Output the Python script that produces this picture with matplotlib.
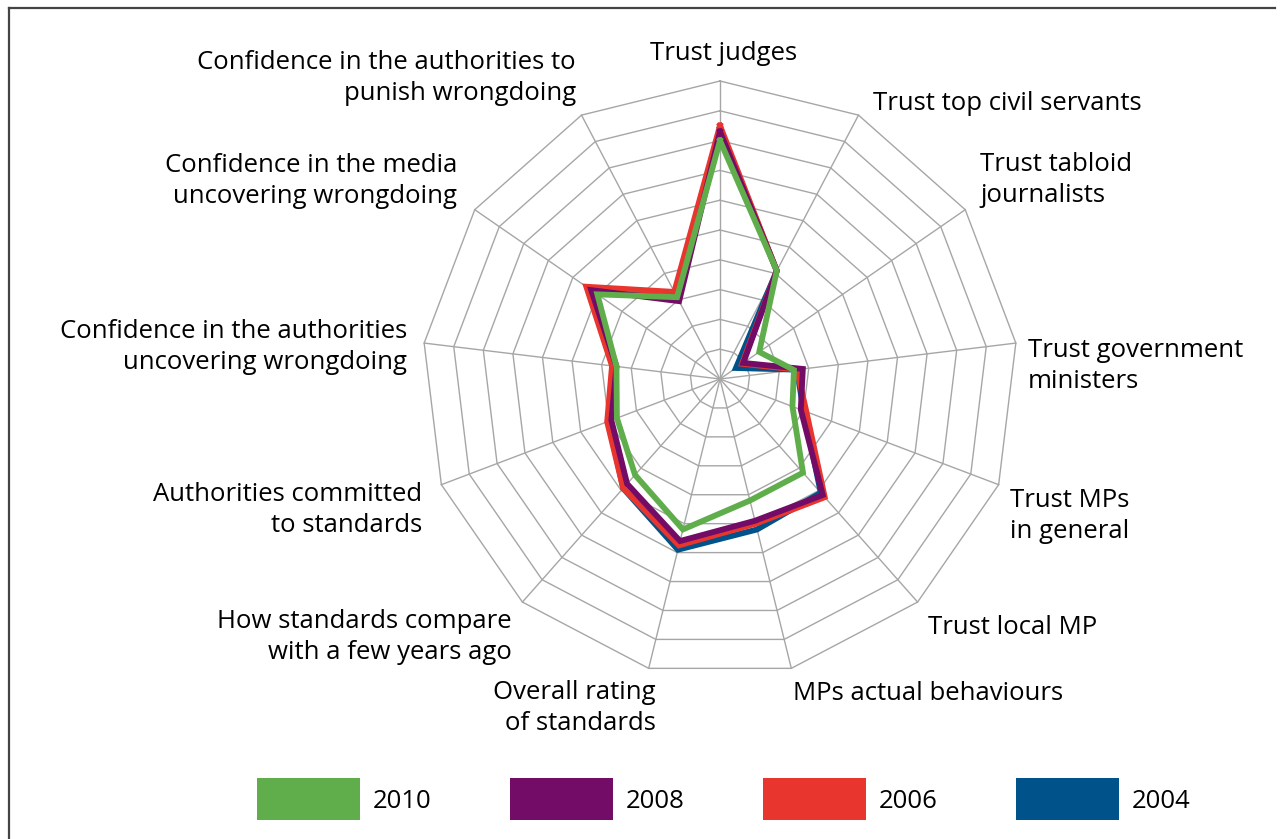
import numpy as np
import matplotlib
matplotlib.use('Agg')
import matplotlib.pyplot as plt
from matplotlib.patches import Rectangle
from matplotlib.lines import Line2D

plt.rcParams['font.family'] = ['Open Sans', 'DejaVu Sans']

# axis names, clockwise from the top
categories = [
    "Trust judges",
    "Trust top civil servants",
    "Trust tabloid\njournalists",
    "Trust government\nministers",
    "Trust MPs\nin general",
    "Trust local MP",
    "MPs actual behaviours",
    "Overall rating\nof standards",
    "How standards compare\nwith a few years ago",
    "Authorities committed\nto standards",
    "Confidence in the authorities\nuncovering wrongdoing",
    "Confidence in the media\nuncovering wrongdoing",
    "Confidence in the authorities to\npunish wrongdoing",
]

# values on a 0-100 scale (10 rings)
years = ["2010", "2008", "2006", "2004"]
v2010 = [80, 41, 16, 25, 26, 42, 42, 52, 43, 37, 35, 50, 31]
v2008 = [83, 41, 9.5, 28, 29, 52, 49, 56, 47, 39, 35, 52.5, 29.5]
v2006 = [85, 41, 9, 26, 31, 53, 50, 57.5, 49, 40.5, 36.5, 54.5, 33]
v2004 = [84, 41, 6.5, 26, 30, 51, 52, 59, 49, 40, 36, 53, 32]
colors = {"2010": "#5fae4b", "2008": "#730c66", "2006": "#e8352e", "2004": "#00528a"}

# chart geometry in pixel space
cx, cy, R = 720, 379, 298
n = len(categories)
ang = np.arange(n) * 2 * np.pi / n


def to_xy(vals):
    r = np.asarray(vals, dtype=float) / 100 * R
    x = cx + r * np.sin(ang)
    y = cy - r * np.cos(ang)
    return np.append(x, x[0]), np.append(y, y[0])


fig = plt.figure(figsize=(12.8, 8.39), dpi=100)
ax = fig.add_axes([0, 0, 1, 1])
ax.set_xlim(0, 1280)
ax.set_ylim(839, 0)
ax.axis('off')

# frame on top and left
fig.add_artist(Line2D([9 / 1280, 1275 / 1280], [1 - 8 / 839, 1 - 8 / 839], color='#444444', lw=1.6))
fig.add_artist(Line2D([9 / 1280, 9 / 1280], [0, 1 - 8 / 839], color='#444444', lw=1.6))

# polygon grid
grid_color = '#a6a6a6'
for k in range(1, 11):
    gx, gy = to_xy([k * 10] * n)
    ax.plot(gx, gy, color=grid_color, lw=1.0, zorder=1)
ox, oy = to_xy([100] * n)
for i in range(n):
    ax.plot([cx, ox[i]], [cy, oy[i]], color=grid_color, lw=1.0, zorder=1)

# series, 2004 at the back
series = {"2010": v2010, "2008": v2008, "2006": v2006, "2004": v2004}
for z, yr in enumerate(["2004", "2006", "2008", "2010"]):
    sx, sy = to_xy(series[yr])
    ax.plot(sx, sy, color=colors[yr], lw=4.2, solid_joinstyle='miter', zorder=3 + z)

# labels
fs = 18.5
label_pos = [
    (724, 54, 'center'),
    (873, 104, 'left'),
    (980, 180, 'left'),
    (1028, 366, 'left'),
    (1010, 516, 'left'),
    (928, 628, 'left'),
    (793, 694, 'left'),
    (656, 708, 'right'),
    (512, 637, 'right'),
    (422, 510, 'right'),
    (407, 347, 'right'),
    (457, 181, 'right'),
    (576, 78, 'right'),
]
for lab, (lx, ly, ha) in zip(categories, label_pos):
    ax.text(lx, ly, lab, ha=ha, va='center', fontsize=fs, linespacing=1.28, color='black')

# legend
leg_x = [257, 510, 763, 1016]
for yr, lx in zip(years, leg_x):
    ax.add_patch(Rectangle((lx, 778), 103, 42, facecolor=colors[yr], edgecolor='none'))
    ax.text(lx + 116, 802, yr, ha='left', va='center', fontsize=fs)

fig.savefig('out.png', dpi=100)
